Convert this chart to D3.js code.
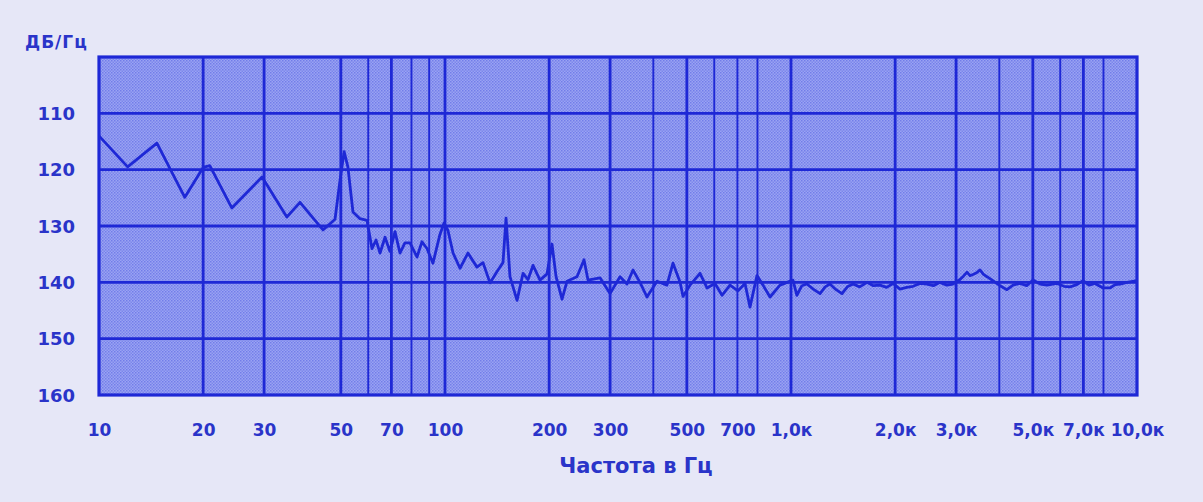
<!DOCTYPE html>
<html><head><meta charset="utf-8">
<script src="https://cdn.jsdelivr.net/npm/d3@7"></script>
<style>
html,body{margin:0;padding:0;background:#e6e7f7;}
svg{display:block;}
</style>
</head><body>
<svg id="chart" width="1203" height="502"></svg>
<script>
// ---- data ----
const freq = [10,12.1,14.7,17.7,20.0,20.9,24.2,29.6,34.9,38.1,44.4,48.1,49.7,51.1,52.4,54.2,56.8,59.5,61.5,63.2,64.9,67.1,69.3,71.7,74.1,76.6,79.2,83.0,85.8,88.7,92.3,96.7,99.3,102,105.5,110.5,116.5,123.7,128.8,134.9,142.3,147.1,150.1,154.1,161.5,168.1,173.8,179.6,188.2,197.2,203.8,209.4,217.9,225.3,240.7,252.2,259.0,280.5,299.9,320.5,335.7,349.4,366.1,383.5,410,438,456,478,487.5,510.6,545.8,571.8,603.1,631.8,666.4,702.8,736.3,761.2,797.3,830,869.8,929.4,
  1013,1040,1075,1112,1160,1213,1255,1296,1350,1404,1455,1511,1580,1658,1730,1808,1890,1971,2065,2160,2252,2360,2473,2580,2696,2820,2939,3079,3150,3227,3290,3357,3440,3517,3600,3685,3850,4018,4210,4381,4589,4800,5004,5250,5495,5873,6150,6404,6700,6984,7270,7563,7977,8356,8650,8931,9357,10000];
const db = [114,119.5,115.3,124.9,119.6,119.3,126.8,121.3,128.4,125.8,130.7,128.8,122,116.8,119.5,127.5,128.7,129,134,132.5,134.8,132,134.5,131,134.8,133,133,135.5,132.8,134,136.6,131.5,129.5,130.8,134.8,137.5,134.8,137.3,136.5,140.1,137.8,136.5,128.6,139,143.2,138.4,139.5,137,139.6,138.5,133.2,139,143,139.8,139,136,139.6,139.2,142,139,140.3,137.8,140,142.6,139.8,140.5,136.6,140,142.5,140.5,138.4,141,140.2,142.3,140.5,141.5,140.2,144.4,138.8,140.5,142.6,140.5,
  139.6,142.3,140.6,140.3,141.2,142,140.8,140.3,141.3,142,140.8,140.3,140.8,140.0,140.6,140.5,140.9,140.2,141.2,140.9,140.7,140.2,140.3,140.6,140.0,140.5,140.3,139.5,138.9,138.2,138.8,138.6,138.3,137.8,138.6,139,139.8,140.6,141.3,140.5,140.2,140.6,139.6,140.3,140.5,140.2,140.7,140.8,140.4,139.7,140.5,140.2,141,141,140.4,140.3,140,139.7];

const xTickValues = [10,20,30,50,70,100,200,300,500,700,1000,2000,3000,5000,7000,10000];
const xTickLabels = ["10","20","30","50","70","100","200","300","500","700","1,0к","2,0к","3,0к","5,0к","7,0к","10,0к"];
const xGridValues = [20,30,50,60,70,80,90,100,200,300,400,500,600,700,800,1000,2000,3000,4000,5000,6000,7000,8000];
const xGridMajor = [20,30,50,70,100,200,300,500,1000,2000,3000,5000,7000];
const yTickValues = [110,120,130,140,150,160];
const yGridValues = [110,120,130,140,150];
const yUnit = "ДБ/Гц";
const xTitle = "Частота в Гц";

// ---- layout ----
const svg = d3.select("#chart");
const L = 99, R = 1137, T = 57, B = 395;
const blue = "#1e28d6";
const textBlue = "#2a34c9";

const x = d3.scaleLog().domain([10, 10000]).range([L, R]);
const y = d3.scaleLinear().domain([100, 160]).range([T, B]);

svg.append("rect").attr("width",1203).attr("height",502).attr("fill","#e6e7f7");

// plot background (halftone look)
const defs = svg.append("defs");
const pat = defs.append("pattern").attr("id","dots").attr("width",3).attr("height",3)
  .attr("patternUnits","userSpaceOnUse");
pat.append("rect").attr("width",3).attr("height",3).attr("fill","#9aa3f3");
pat.append("rect").attr("x",0).attr("y",0).attr("width",1.5).attr("height",1.5).attr("fill","#727de9");
pat.append("rect").attr("x",1.5).attr("y",1.5).attr("width",1.5).attr("height",1.5).attr("fill","#7c87eb");

svg.append("rect").attr("x",L).attr("y",T).attr("width",R-L).attr("height",B-T)
  .attr("fill","url(#dots)");

// grid
const g = svg.append("g");
g.selectAll("line.vx").data(xGridValues).join("line")
  .attr("x1", d=>x(d)).attr("x2", d=>x(d)).attr("y1", T).attr("y2", B)
  .attr("stroke", blue).attr("stroke-width", d => xGridMajor.includes(d) ? 2.8 : 1.9);
g.selectAll("line.hy").data(yGridValues).join("line")
  .attr("x1", L).attr("x2", R).attr("y1", d=>y(d)).attr("y2", d=>y(d))
  .attr("stroke", blue).attr("stroke-width", 2.8);

// curve
const line = d3.line().x((d,i)=>x(freq[i])).y((d,i)=>y(db[i]));
svg.append("path").datum(db).attr("d", line).attr("fill","none")
  .attr("stroke", blue).attr("stroke-width", 2.8).attr("stroke-linejoin","round");

// frame
svg.append("rect").attr("x",L).attr("y",T).attr("width",R-L).attr("height",B-T)
  .attr("fill","none").attr("stroke",blue).attr("stroke-width",3.2);

// axes
const fontFam = "'DejaVu Sans', sans-serif";
const xAxis = d3.axisBottom(x).tickValues(xTickValues)
  .tickFormat((d,i)=>xTickLabels[i]).tickSize(0).tickPadding(0);
const gx = svg.append("g").attr("transform",`translate(0,${B+41})`).call(xAxis);
gx.select(".domain").remove();
gx.selectAll("text").attr("fill",textBlue).attr("font-family",fontFam)
  .attr("font-weight","bold").attr("font-size",17).attr("dy",0);

const yAxis = d3.axisLeft(y).tickValues(yTickValues).tickSize(0).tickPadding(0);
const gy = svg.append("g").attr("transform",`translate(${L-24},0)`).call(yAxis);
gy.select(".domain").remove();
gy.selectAll("text").attr("fill",textBlue).attr("font-family",fontFam)
  .attr("font-weight","bold").attr("font-size",18).attr("dy","0.35em");

svg.append("text").attr("x",25).attr("y",48).text(yUnit)
  .attr("fill",textBlue).attr("font-family",fontFam).attr("font-weight","bold")
  .attr("font-size",17).attr("letter-spacing",1);

svg.append("text").attr("x",(L+R)/2+18).attr("y",473).attr("text-anchor","middle").text(xTitle)
  .attr("fill",textBlue).attr("font-family",fontFam).attr("font-weight","bold")
  .attr("font-size",21);
</script>
</body></html>
